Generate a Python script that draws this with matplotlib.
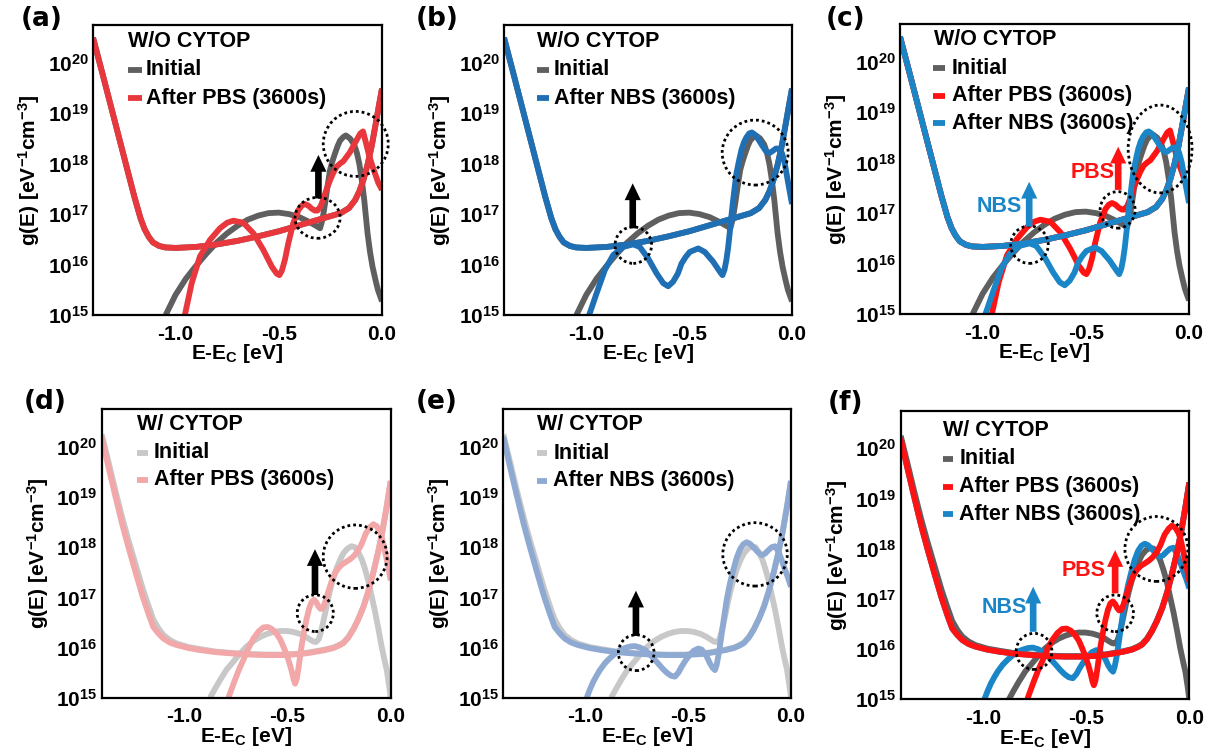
import numpy as np
import matplotlib
matplotlib.use("Agg")
import matplotlib.pyplot as plt
from matplotlib.patches import Ellipse, FancyArrow

plt.rcParams['font.family'] = ['Liberation Sans', 'DejaVu Sans']
plt.rcParams['font.weight'] = 'bold'
plt.rcParams['mathtext.fontset'] = 'custom'
plt.rcParams['mathtext.rm'] = 'Liberation Sans:bold'
plt.rcParams['mathtext.it'] = 'Liberation Sans:bold'
plt.rcParams['mathtext.bf'] = 'Liberation Sans:bold'
plt.rcParams['mathtext.default'] = 'rm'
plt.rcParams['axes.unicode_minus'] = False

# ---------------- data (x in eV, y as log10 of g(E)) ----------------
wo_bg_x = [-1.40, -1.35, -1.30, -1.25, -1.20, -1.17, -1.15, -1.13, -1.11, -1.08, -1.05, -1.00,
           -0.90, -0.80, -0.70, -0.60, -0.50, -0.40, -0.30, -0.20, -0.16, -0.13, -0.11, -0.09,
           -0.07, -0.05, -0.03, -0.015, 0.0]
wo_bg_log = [20.50, 19.72, 18.93, 18.14, 17.35, 16.92, 16.70, 16.55, 16.44, 16.37, 16.34, 16.33,
             16.35, 16.40, 16.47, 16.56, 16.66, 16.78, 16.90, 17.02, 17.12, 17.28, 17.45, 17.68,
             17.98, 18.35, 18.80, 19.15, 19.49]

wo_init_x = [-1.048, -1.00, -0.95, -0.90, -0.85, -0.80, -0.75, -0.70, -0.65, -0.60, -0.55, -0.50,
             -0.45, -0.40, -0.35, -0.32, -0.30, -0.288, -0.276, -0.264, -0.252, -0.240, -0.228,
             -0.215, -0.203, -0.187, -0.175, -0.155, -0.135, -0.122, -0.110, -0.098, -0.086,
             -0.078, -0.070, -0.058, -0.046, -0.033, -0.020, 0.0]
wo_init_log = [15.00, 15.40, 15.72, 15.98, 16.22, 16.44, 16.62, 16.77, 16.89, 16.97, 17.02, 17.03,
               17.00, 16.94, 16.84, 16.77, 16.72, 16.90, 17.21, 17.55, 17.87, 18.05, 18.20,
               18.35, 18.46, 18.53, 18.56, 18.50, 18.38, 18.22, 18.00, 17.68, 17.28,
               16.95, 16.62, 16.25, 15.96, 15.72, 15.50, 15.27]

wo_pbs_x = [-0.955, -0.922, -0.882, -0.833, -0.785, -0.750, -0.720, -0.672, -0.623, -0.575,
            -0.534, -0.510, -0.497, -0.485, -0.470, -0.454, -0.430, -0.405, -0.388, -0.373,
            -0.357, -0.341, -0.325, -0.313, -0.298, -0.284, -0.268, -0.252, -0.236, -0.220,
            -0.204, -0.187, -0.171, -0.155, -0.139, -0.123, -0.105, -0.092, -0.080, -0.066,
            -0.054, -0.042, -0.030, -0.018, 0.0]
wo_pbs_log = [15.00, 15.63, 16.16, 16.49, 16.72, 16.83, 16.87, 16.83, 16.62, 16.29,
              15.96, 15.82, 15.79, 15.88, 16.10, 16.42, 16.82, 17.08, 17.17, 17.20,
              17.17, 17.11, 17.07, 17.07, 17.15, 17.30, 17.50, 17.67, 17.82, 17.94,
              18.00, 18.05, 18.14, 18.23, 18.35, 18.47, 18.60, 18.64, 18.45, 18.22,
              18.05, 17.90, 17.76, 17.62, 17.48]

wo_nbs_x = [-0.986, -0.950, -0.910, -0.869, -0.821, -0.772, -0.740, -0.699, -0.659, -0.626,
            -0.602, -0.578, -0.555, -0.537, -0.517, -0.497, -0.456, -0.424, -0.384, -0.351,
            -0.338, -0.328, -0.319, -0.311, -0.303, -0.295, -0.286, -0.278, -0.270, -0.258,
            -0.246, -0.234, -0.222, -0.208, -0.195, -0.182, -0.170, -0.157, -0.145, -0.125,
            -0.110, -0.095, -0.078, -0.062, -0.048, -0.035, -0.020, 0.0]
wo_nbs_log = [15.00, 15.43, 15.89, 16.19, 16.35, 16.40, 16.35, 16.12, 15.83, 15.63,
              15.57, 15.66, 15.82, 16.02, 16.15, 16.25, 16.32, 16.25, 16.06, 15.86,
              15.79, 15.90, 16.09, 16.32, 16.62, 16.95, 17.28, 17.55, 17.81, 18.05,
              18.27, 18.42, 18.52, 18.60, 18.62, 18.58, 18.52, 18.44, 18.36, 18.24,
              18.21, 18.25, 18.30, 18.30, 18.20, 18.00, 17.65, 17.20]

w_bg_x = [-1.400, -1.370, -1.335, -1.300, -1.271, -1.236, -1.201, -1.174, -1.150, -1.125,
          -1.101, -1.070, -1.037, -0.980, -0.924, -0.850, -0.762, -0.680, -0.601, -0.520,
          -0.439, -0.400, -0.358, -0.318, -0.278, -0.250, -0.229, -0.205, -0.181, -0.157,
          -0.132, -0.108, -0.084, -0.060, -0.040, -0.020, 0.0]
w_bg_log = [20.20, 19.65, 19.04, 18.45, 18.01, 17.50, 17.01, 16.68, 16.41, 16.28,
            16.18, 16.10, 16.05, 15.99, 15.95, 15.91, 15.88, 15.86, 15.85, 15.85,
            15.87, 15.89, 15.92, 15.95, 15.99, 16.04, 16.09, 16.20, 16.36, 16.56,
            16.81, 17.12, 17.50, 17.92, 18.32, 18.80, 19.32]

w_init_bg_x = [-1.400, -1.370, -1.335, -1.300, -1.271, -1.236, -1.201, -1.174, -1.150, -1.125,
               -1.101, -1.070, -1.037, -0.980, -0.924, -0.850, -0.762, -0.680, -0.601, -0.520,
               -0.439, -0.400, -0.358, -0.318, -0.278, -0.250, -0.229, -0.205, -0.181, -0.157,
               -0.132, -0.108, -0.084, -0.060, -0.040, -0.020, 0.0]
w_init_bg_log = [20.25, 19.75, 19.15, 18.58, 18.15, 17.66, 17.17, 16.84, 16.56, 16.38,
                 16.25, 16.15, 16.08, 16.01, 15.97, 15.92, 15.89, 15.87, 15.86, 15.86,
                 15.88, 15.90, 15.93, 15.96, 16.00, 16.05, 16.10, 16.21, 16.37, 16.57,
                 16.82, 17.13, 17.50, 17.92, 18.32, 18.80, 19.32]

w_init_x = [-0.875, -0.851, -0.827, -0.795, -0.762, -0.730, -0.698, -0.665, -0.633, -0.600,
            -0.568, -0.536, -0.504, -0.471, -0.439, -0.410, -0.391, -0.375, -0.362, -0.350,
            -0.342, -0.330, -0.318, -0.306, -0.294, -0.278, -0.262, -0.245, -0.229, -0.210,
            -0.190, -0.173, -0.157, -0.140, -0.124, -0.108, -0.092, -0.076, -0.060, -0.044,
            -0.030, -0.019, -0.008, 0.0]
w_init_log = [15.00, 15.18, 15.35, 15.56, 15.72, 15.88, 16.02, 16.13, 16.21, 16.27,
              16.31, 16.33, 16.33, 16.31, 16.27, 16.21, 16.16, 16.12, 16.11, 16.16,
              16.25, 16.45, 16.68, 16.92, 17.14, 17.38, 17.58, 17.75, 17.88, 17.97,
              18.02, 18.00, 17.90, 17.76, 17.56, 17.32, 17.02, 16.72, 16.38, 16.02,
              15.75, 15.55, 15.25, 15.00]

w_pbs_x = [-0.786, -0.770, -0.754, -0.733, -0.713, -0.690, -0.665, -0.640, -0.617, -0.596,
           -0.576, -0.556, -0.536, -0.520, -0.504, -0.490, -0.479, -0.470, -0.463, -0.455,
           -0.447, -0.439, -0.431, -0.419, -0.407, -0.395, -0.383, -0.371, -0.360, -0.350,
           -0.340, -0.330, -0.318, -0.302, -0.286, -0.270, -0.254, -0.235, -0.215, -0.197,
           -0.180, -0.160, -0.140, -0.120, -0.100, -0.084, -0.068, -0.052, -0.040, -0.027,
           -0.012, 0.0]
w_pbs_log = [15.00, 15.18, 15.36, 15.58, 15.76, 15.98, 16.18, 16.32, 16.40, 16.41,
             16.37, 16.29, 16.17, 16.02, 15.86, 15.68, 15.52, 15.36, 15.28, 15.38,
             15.58, 15.82, 16.05, 16.33, 16.58, 16.78, 16.91, 16.95, 16.90, 16.82,
             16.77, 16.78, 16.90, 17.12, 17.32, 17.48, 17.58, 17.66, 17.71, 17.76,
             17.82, 17.92, 18.07, 18.28, 18.40, 18.46, 18.42, 18.31, 18.15, 17.90,
             17.62, 17.34]

w_nbs_x = [-0.994, -0.978, -0.962, -0.946, -0.930, -0.905, -0.881, -0.856, -0.832, -0.808,
           -0.784, -0.759, -0.735, -0.710, -0.686, -0.666, -0.646, -0.625, -0.605, -0.585,
           -0.565, -0.548, -0.532, -0.512, -0.492, -0.472, -0.451, -0.435, -0.419, -0.405,
           -0.394, -0.382, -0.370, -0.362, -0.354, -0.345, -0.337, -0.325, -0.313, -0.297,
           -0.281, -0.265, -0.248, -0.232, -0.216, -0.200, -0.183, -0.163, -0.143, -0.127,
           -0.110, -0.094, -0.078, -0.062, -0.045, -0.030, -0.015, 0.0]
w_nbs_log = [15.00, 15.17, 15.32, 15.44, 15.55, 15.69, 15.79, 15.88, 15.95, 15.99,
             16.02, 16.03, 16.00, 15.95, 15.86, 15.77, 15.68, 15.58, 15.50, 15.44,
             15.42, 15.50, 15.62, 15.75, 15.86, 15.94, 15.98, 15.96, 15.88, 15.78,
             15.68, 15.60, 15.55, 15.65, 15.82, 16.05, 16.28, 16.62, 16.95, 17.28,
             17.54, 17.78, 17.96, 18.06, 18.10, 18.07, 18.00, 17.91, 17.84, 17.87,
             17.94, 18.00, 18.02, 17.92, 17.74, 17.56, 17.40, 17.21]

x_ticks = [-1.0, -0.5, 0.0]
x_tick_labels = ['-1.0', '-0.5', '0.0']
y_exps = [15, 16, 17, 18, 19, 20]

# ---------------- colours ----------------
GRAY = '#5f5f5f'
LGRAY = '#c8c8c8'
RED_A = '#e8383d'
BLUE_B = '#1f6fb5'
RED = '#ff1212'
BLUE = '#1a86c8'
PINK = '#f2a7a9'
LBLUE = '#8eaad3'

W, H = 1217.0, 756.0
FS = 15
LFS = 15.5


def ax_at(l, t, r, b):
    return fig.add_axes([l / W, 1 - b / H, (r - l) / W, (b - t) / H])


def setup(ax, label, lab_xy):
    ax.set_yscale('log')
    ax.set_xlim(-1.4, 0.0)
    ax.set_ylim(1e15, 10 ** 20.75)
    ax.set_xticks(x_ticks)
    ax.set_xticklabels(x_tick_labels)
    ax.set_yticks([10.0 ** e for e in y_exps])
    ax.set_yticklabels([r'$10^{%d}$' % e for e in y_exps])
    ax.yaxis.set_minor_locator(matplotlib.ticker.NullLocator())
    ax.tick_params(axis='both', length=0, labelsize=FS)
    ax.tick_params(axis='y', pad=3)
    ax.tick_params(axis='x', pad=7)
    for s in ax.spines.values():
        s.set_linewidth(1.6)
    ax.set_xlabel(r'E-E$_{\mathrm{C}}$ [eV]', fontsize=FS, fontweight='bold', labelpad=-1)
    ax.set_ylabel(r'g(E) [eV$^{-1}$cm$^{-3}$]', fontsize=FS, fontweight='bold', labelpad=4)
    fig.text(lab_xy[0] / W, 1 - lab_xy[1] / H, label, fontsize=19, fontweight='bold',
             ha='center', va='center', family=['DejaVu Sans'])


def curve(ax, xs, logs, color):
    ax.plot(xs, [10.0 ** v for v in logs], color=color, lw=4.2, solid_capstyle='butt',
            solid_joinstyle='round')


def legend(ax, title, tx, ty, entries, hx0, hx1, textx, ys):
    ax.text(tx, ty, title, transform=ax.transAxes, fontsize=LFS, fontweight='bold',
            ha='left', va='center')
    for (name, col), y in zip(entries, ys):
        ax.plot([hx0, hx1], [y, y], transform=ax.transAxes, color=col, lw=4.2,
                solid_capstyle='butt')
        ax.text(textx, y, name, transform=ax.transAxes, fontsize=LFS, fontweight='bold',
                ha='left', va='center')


def circ(ax, cx, cy, w, h):
    e = Ellipse((cx, cy), w, h, transform=ax.transAxes, fill=False, edgecolor='black',
                lw=2.0, linestyle=(0, (1, 1.1)), clip_on=False, zorder=5)
    ax.add_patch(e)


def arrow(ax, x, y0, y1, color):
    a = FancyArrow(x, y0, 0, y1 - y0, width=0.023, head_width=0.056, head_length=0.058,
                   length_includes_head=True, transform=ax.transAxes, color=color,
                   clip_on=False, zorder=6, lw=0)
    ax.add_patch(a)


fig = plt.figure(figsize=(W / 100, H / 100), dpi=100)

# (a)
ax = ax_at(93, 25, 382, 315)
setup(ax, '(a)', (42, 19))
curve(ax, wo_bg_x, wo_bg_log, GRAY)
curve(ax, wo_init_x, wo_init_log, GRAY)
curve(ax, wo_bg_x, wo_bg_log, RED_A)
curve(ax, wo_pbs_x, wo_pbs_log, RED_A)
legend(ax, 'W/O CYTOP', 0.122, 0.942, [('Initial', GRAY), ('After PBS (3600s)', RED_A)],
       0.121, 0.168, 0.183, [0.845, 0.747])
circ(ax, 0.909, 0.590, 0.225, 0.224)
circ(ax, 0.777, 0.335, 0.156, 0.141)
arrow(ax, 0.78, 0.402, 0.552, 'black')

# (b)
ax = ax_at(504, 25, 792, 315)
setup(ax, '(b)', (437, 19))
curve(ax, wo_bg_x, wo_bg_log, GRAY)
curve(ax, wo_init_x, wo_init_log, GRAY)
curve(ax, wo_bg_x, wo_bg_log, BLUE_B)
curve(ax, wo_nbs_x, wo_nbs_log, BLUE_B)
legend(ax, 'W/O CYTOP', 0.113, 0.942, [('Initial', GRAY), ('After NBS (3600s)', BLUE_B)],
       0.113, 0.155, 0.174, [0.845, 0.747])
circ(ax, 0.872, 0.560, 0.229, 0.224)
circ(ax, 0.449, 0.241, 0.127, 0.126)
arrow(ax, 0.447, 0.299, 0.454, 'black')

# (c)
ax = ax_at(900, 24, 1189, 314)
setup(ax, '(c)', (846, 19))
curve(ax, wo_bg_x, wo_bg_log, GRAY)
curve(ax, wo_init_x, wo_init_log, GRAY)
curve(ax, wo_bg_x, wo_bg_log, RED)
curve(ax, wo_pbs_x, wo_pbs_log, RED)
curve(ax, wo_bg_x, wo_bg_log, BLUE)
curve(ax, wo_nbs_x, wo_nbs_log, BLUE)
legend(ax, 'W/O CYTOP', 0.118, 0.947,
       [('Initial', GRAY), ('After PBS (3600s)', RED), ('After NBS (3600s)', BLUE)],
       0.115, 0.156, 0.179, [0.847, 0.752, 0.658])
circ(ax, 0.90, 0.569, 0.221, 0.303)
circ(ax, 0.753, 0.359, 0.121, 0.126)
circ(ax, 0.448, 0.239, 0.13, 0.129)
arrow(ax, 0.755, 0.428, 0.577, RED)
arrow(ax, 0.447, 0.301, 0.456, BLUE)
ax.text(0.666, 0.488, 'PBS', transform=ax.transAxes, color=RED, fontsize=LFS,
        fontweight='bold', ha='center', va='center')
ax.text(0.343, 0.37, 'NBS', transform=ax.transAxes, color=BLUE, fontsize=LFS,
        fontweight='bold', ha='center', va='center')

# (d)
ax = ax_at(101.7, 409.3, 390.7, 697.7)
setup(ax, '(d)', (45, 402))
curve(ax, w_init_bg_x, w_init_bg_log, LGRAY)
curve(ax, w_init_x, w_init_log, LGRAY)
curve(ax, w_bg_x, w_bg_log, PINK)
curve(ax, w_pbs_x, w_pbs_log, PINK)
legend(ax, 'W/ CYTOP', 0.121, 0.949, [('Initial', LGRAY), ('After PBS (3600s)', PINK)],
       0.121, 0.159, 0.181, [0.85, 0.755])
circ(ax, 0.877, 0.489, 0.221, 0.22)
circ(ax, 0.739, 0.293, 0.125, 0.127)
arrow(ax, 0.738, 0.356, 0.515, 'black')

# (e)
ax = ax_at(503.3, 409.3, 791, 697.7)
setup(ax, '(e)', (437, 402))
curve(ax, w_init_bg_x, w_init_bg_log, LGRAY)
curve(ax, w_init_x, w_init_log, LGRAY)
curve(ax, w_bg_x, w_bg_log, LBLUE)
curve(ax, w_nbs_x, w_nbs_log, LBLUE)
legend(ax, 'W/ CYTOP', 0.116, 0.946, [('Initial', LGRAY), ('After NBS (3600s)', LBLUE)],
       0.116, 0.152, 0.174, [0.848, 0.753])
circ(ax, 0.875, 0.497, 0.224, 0.22)
circ(ax, 0.462, 0.156, 0.124, 0.124)
arrow(ax, 0.461, 0.214, 0.371, 'black')

# (f)
ax = ax_at(900.7, 410.7, 1189.3, 699.3)
setup(ax, '(f)', (846, 403))
curve(ax, w_init_bg_x, w_init_bg_log, GRAY)
curve(ax, w_init_x, w_init_log, GRAY)
curve(ax, w_bg_x, w_bg_log, BLUE)
curve(ax, w_nbs_x, w_nbs_log, BLUE)
curve(ax, w_bg_x, w_bg_log, RED)
curve(ax, w_pbs_x, w_pbs_log, RED)
legend(ax, 'W/ CYTOP', 0.146, 0.933,
       [('Initial', GRAY), ('After PBS (3600s)', RED), ('After NBS (3600s)', BLUE)],
       0.146, 0.182, 0.203, [0.833, 0.737, 0.642])
circ(ax, 0.886, 0.521, 0.218, 0.225)
circ(ax, 0.743, 0.298, 0.127, 0.127)
circ(ax, 0.462, 0.166, 0.124, 0.125)
arrow(ax, 0.743, 0.367, 0.517, RED)
arrow(ax, 0.459, 0.234, 0.39, BLUE)
ax.text(0.633, 0.447, 'PBS', transform=ax.transAxes, color=RED, fontsize=LFS,
        fontweight='bold', ha='center', va='center')
ax.text(0.359, 0.318, 'NBS', transform=ax.transAxes, color=BLUE, fontsize=LFS,
        fontweight='bold', ha='center', va='center')

fig.savefig('out.png', dpi=100)
